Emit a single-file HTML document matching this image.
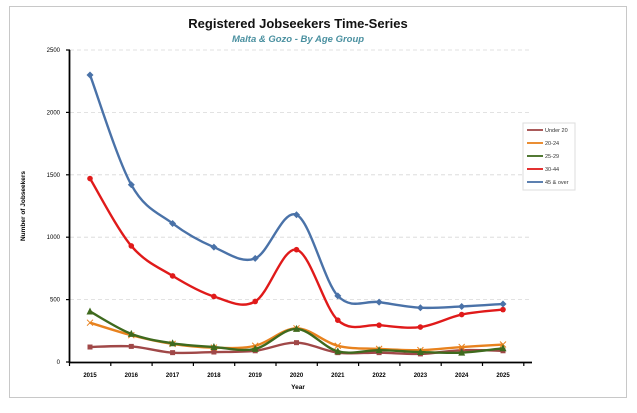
<!DOCTYPE html>
<html><head><meta charset="utf-8"><style>
body{margin:0;background:#fff;width:637px;height:408px;overflow:hidden;font-family:"Liberation Sans",sans-serif}
</style></head><body>
<svg id="s" width="637" height="408" xmlns="http://www.w3.org/2000/svg" font-family="Liberation Sans, sans-serif">
<rect x="9.5" y="6.5" width="617" height="391" fill="#fff" stroke="#c8c8c8"/>
<text x="298" y="28" text-anchor="middle" font-size="13" font-weight="bold" fill="#111">Registered Jobseekers Time-Series</text>
<text x="298" y="42" text-anchor="middle" font-size="9.5" font-style="italic" font-weight="bold" fill="#4a90a0">Malta &amp; Gozo - By Age Group</text>
<g id="grid" stroke="#d8d8d8" stroke-dasharray="4,3" stroke-width="0.8"></g>
<g id="ax"></g>
<text transform="translate(25,206) rotate(-90)" text-anchor="middle" font-size="6.5" font-weight="bold">Number of Jobseekers</text>
<text x="298" y="389" text-anchor="middle" font-size="6.5" font-weight="bold">Year</text>
<g id="ser"></g>
<rect x="523" y="123" width="52" height="67" fill="#fff" stroke="#ddd" filter="none"/>
<g id="leg" font-size="5.5" fill="#333"></g>
</svg>
<script>
var S=document.getElementById('s'),ns='http://www.w3.org/2000/svg';
function el(p,t,a,tx){var e=document.createElementNS(ns,t);for(var k in a)e.setAttribute(k,a[k]);if(tx)e.textContent=tx;document.getElementById(p).appendChild(e);return e;}
var x0=90,dx=41.3,y0=362,ky=312/2500;
function X(i){return x0+i*dx}function Y(v){return y0-v*ky}
for(var v=0;v<=2500;v+=500){if(v>0)el('grid','line',{x1:70,x2:532,y1:Y(v),y2:Y(v)});
el('ax','text',{x:60,y:Y(v)+2,'text-anchor':'end','font-size':'6'},''+v);
el('ax','line',{x1:66,x2:70,y1:Y(v),y2:Y(v),stroke:'#000','stroke-width':1.2});}
el('ax','line',{x1:69.5,x2:69.5,y1:50,y2:363,stroke:'#000','stroke-width':1.8});
el('ax','line',{x1:69,x2:532,y1:362.5,y2:362.5,stroke:'#000','stroke-width':1.8});
for(var i=0;i<=11;i++)el('ax','line',{x1:69.5+i*dx,x2:69.5+i*dx,y1:362,y2:366,stroke:'#000','stroke-width':1.2});
for(var i=0;i<11;i++)el('ax','text',{x:X(i),y:377,'text-anchor':'middle','font-size':'6','font-weight':'bold'},''+(2015+i));
var D=[
['Under 20','#a04848','sq',[120,125,75,80,90,155,75,75,65,95,90]],
['20-24','#e8821e','x',[315,215,145,115,130,270,130,105,95,120,140]],
['25-29','#3f6a1e','tri',[405,225,150,120,105,265,85,95,80,75,110]],
['30-44','#e01a1a','circ',[1470,930,690,525,485,900,335,295,280,380,420]],
['45 & over','#4a72a8','dia',[2300,1420,1110,920,830,1180,530,480,435,445,465]]];
function mk(g,t,x,y,c){if(t=='sq')el(g,'rect',{x:x-2.5,y:y-2.5,width:5,height:5,fill:c});
else if(t=='circ')el(g,'circle',{cx:x,cy:y,r:2.8,fill:c});
else if(t=='tri')el(g,'polygon',{points:(x-3.5)+','+(y+3)+' '+(x+3.5)+','+(y+3)+' '+x+','+(y-4),fill:c});
else if(t=='dia')el(g,'polygon',{points:x+','+(y-3.5)+' '+(x+3.5)+','+y+' '+x+','+(y+3.5)+' '+(x-3.5)+','+y,fill:c});
else {el(g,'path',{d:'M'+(x-3)+' '+(y-3)+'L'+(x+3)+' '+(y+3)+'M'+(x-3)+' '+(y+3)+'L'+(x+3)+' '+(y-3),stroke:c,'stroke-width':1});}}
D.forEach(function(s,j){var P=s[3].map(function(v,i){return[X(i),Y(v)]});
var d='M'+P[0][0]+' '+P[0][1];for(var i=0;i<P.length-1;i++){var p0=P[i-1]||P[i],p1=P[i],p2=P[i+1],p3=P[i+2]||p2,t=6;
d+='C'+(p1[0]+(p2[0]-p0[0])/t)+' '+(p1[1]+(p2[1]-p0[1])/t)+' '+(p2[0]-(p3[0]-p1[0])/t)+' '+(p2[1]-(p3[1]-p1[1])/t)+' '+p2[0]+' '+p2[1];}
el('ser','path',{d:d,fill:'none',stroke:s[1],'stroke-width':2.4});
P.forEach(function(p){mk('ser',s[2],p[0],p[1],s[1])});
var ly=130+j*13;el('leg','line',{x1:527,x2:543,y1:ly,y2:ly,stroke:s[1],'stroke-width':1.8});
el('leg','text',{x:545,y:ly+2},s[0]);});
</script>
</body></html>
